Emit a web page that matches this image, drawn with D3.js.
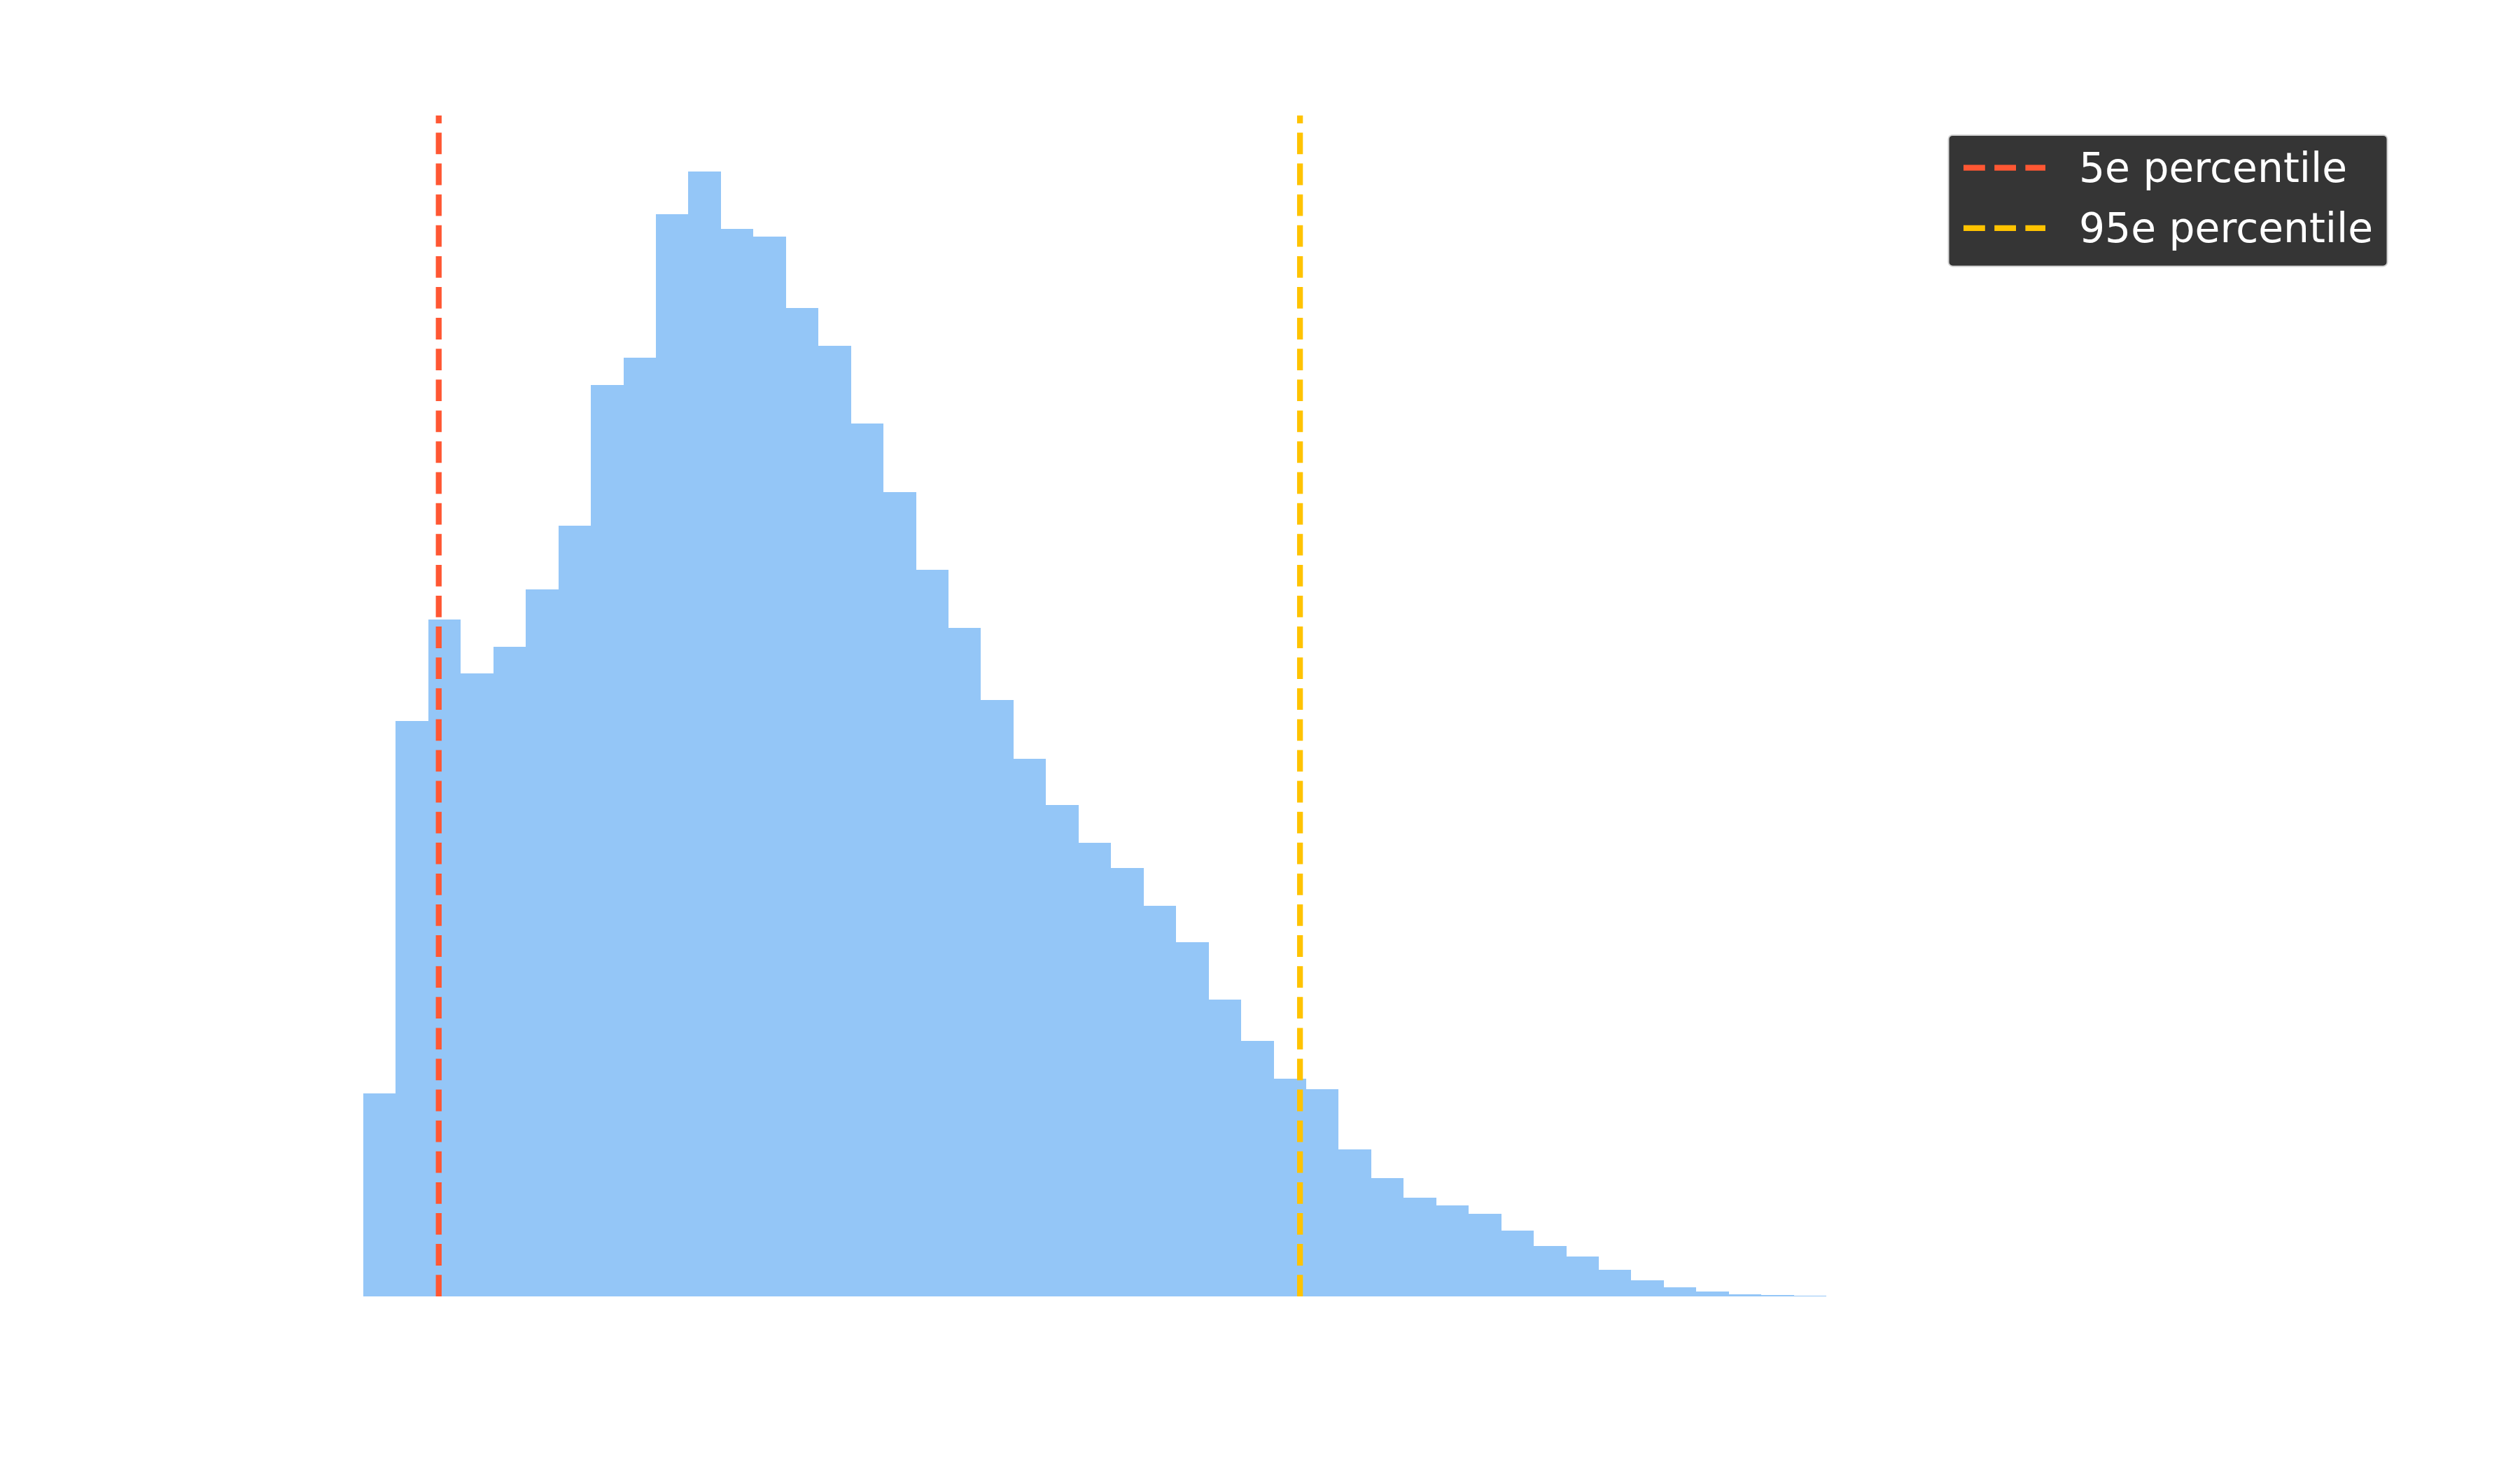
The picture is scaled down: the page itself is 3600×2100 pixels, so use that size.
<!DOCTYPE html>
<html>
<head>
<meta charset="utf-8">
<script src="https://cdn.jsdelivr.net/npm/d3@7"></script>
<style>
  html, body { margin: 0; padding: 0; background: #ffffff; }
  svg { display: block; }
</style>
</head>
<body>
<script>
// ---- data ----
const binStart = 0;          // first bin edge (bin units)
const binWidth = 1;          // width of each bin
const counts = [
  290, 823, 968, 891, 929, 1011, 1103, 1304, 1343, 1548,
  1609, 1527, 1516, 1414, 1360, 1249, 1151, 1040, 956, 853,
  769, 703, 649, 613, 559, 507, 425, 366, 311, 296,
  210, 169, 141, 130, 118, 94, 72, 57, 38, 23,
  13, 7, 3, 1.8, 1.2
];
const percentiles = [
  { label: "5e percentile",  value: 2.32,  color: "#FF5733" },
  { label: "95e percentile", value: 28.81, color: "#FFC300" }
];
const barColor = "#94C6F7";

// ---- layout ----
const W = 3600, H = 2100;
const axLeft = 414.5, axRight = 2713.6, axTop = 165, axBottom = 1852;

const svg = d3.select("body").append("svg")
  .attr("width", W).attr("height", H)
  .attr("viewBox", `0 0 ${W} ${H}`);
svg.append("rect").attr("width", W).attr("height", H).attr("fill", "#ffffff");

const bins = counts.map((c, i) => ({
  x0: binStart + i * binWidth,
  x1: binStart + (i + 1) * binWidth,
  count: c
}));

const xMin = binStart, xMax = binStart + counts.length * binWidth;
const xPad = (xMax - xMin) * 0.05;
const x = d3.scaleLinear().domain([xMin - xPad, xMax + xPad]).range([axLeft, axRight]);
const y = d3.scaleLinear().domain([0, d3.max(counts) * 1.05]).range([axBottom, axTop]);

// bars (pixel-snapped so neighbouring bars meet without seams)
svg.append("g").selectAll("rect").data(bins).join("rect")
  .attr("x", d => Math.round(x(d.x0)))
  .attr("y", d => Math.round(y(d.count)))
  .attr("width", d => Math.round(x(d.x1)) - Math.round(x(d.x0)))
  .attr("height", d => Math.max(1, Math.round(y(0)) - Math.round(y(d.count))))
  .attr("fill", barColor)
  .attr("shape-rendering", "crispEdges");

// percentile lines (drawn bottom to top so dashes start at the baseline)
const lw = 8.33;
const dash = "30.8,13.3";
svg.append("g").selectAll("line").data(percentiles).join("line")
  .attr("x1", d => x(d.value)).attr("x2", d => x(d.value))
  .attr("y1", axBottom).attr("y2", axTop)
  .attr("stroke", d => d.color)
  .attr("stroke-width", lw)
  .attr("stroke-dasharray", dash)
  .attr("stroke-linecap", "butt");

// legend
const lg = svg.append("g").attr("transform", "translate(2783.5,192.9)");
lg.append("rect")
  .attr("x", 0).attr("y", 0)
  .attr("width", 627).attr("height", 187.5)
  .attr("rx", 6).attr("ry", 6)
  .attr("fill", "#353535")
  .attr("stroke", "#d4d4d4")
  .attr("stroke-width", 2);
const rowY = [46.8, 133.0];
const rows = lg.selectAll("g.row").data(percentiles).join("g")
  .attr("class", "row")
  .attr("transform", (d, i) => `translate(0,${rowY[i]})`);
rows.append("line")
  .attr("x1", 21.5).attr("x2", 138.5)
  .attr("y1", 0).attr("y2", 0)
  .attr("stroke", d => d.color)
  .attr("stroke-width", lw)
  .attr("stroke-dasharray", "30.8,13.4");
rows.append("text")
  .attr("x", 186.5).attr("y", 20.2)
  .attr("fill", "#ffffff")
  .attr("font-family", "DejaVu Sans")
  .attr("font-size", 58.3)
  .text(d => d.label);
</script>
</body>
</html>
